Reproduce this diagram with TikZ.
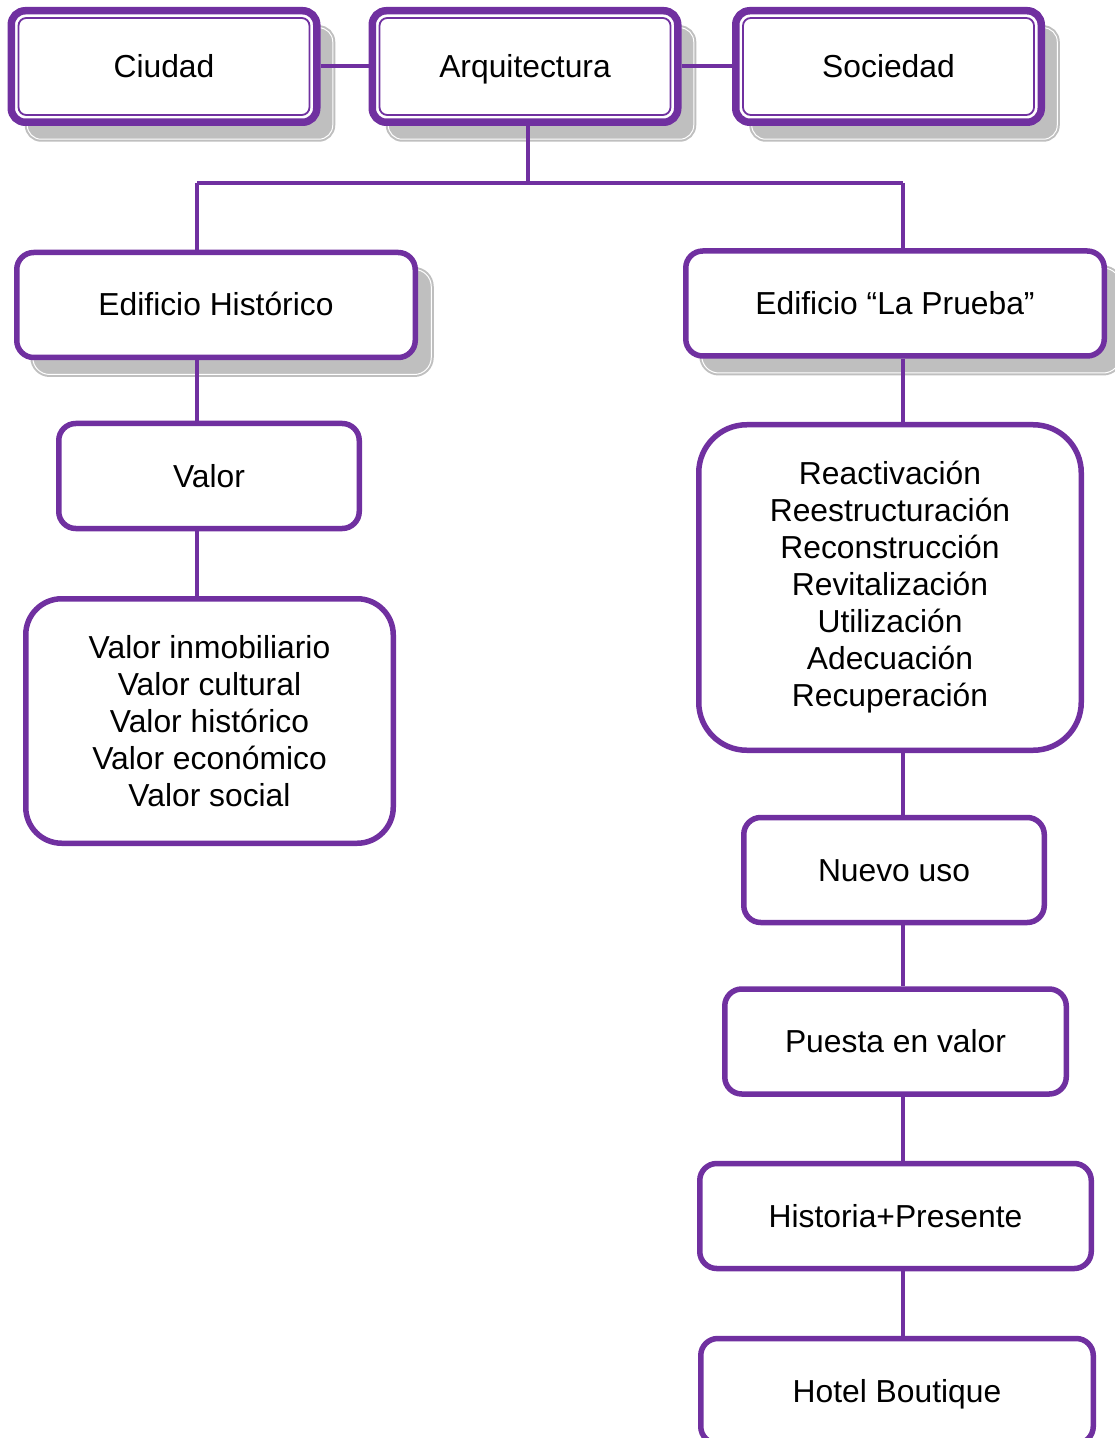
\documentclass[tikz,border=0pt]{standalone}
\usepackage{fontspec}
\setmainfont{Liberation Sans}
\usetikzlibrary{shadows,calc}
\definecolor{morado}{HTML}{7030A0}
\tikzset{
  every node/.style={font=\fontsize{15.9}{18.5}\selectfont},
  boxbase/.style={draw=morado,fill=white,line width=2.75pt,align=center,
    inner sep=2pt,rounded corners=8.5pt},
  oneline/.style={text height=14.4pt,text depth=3.4pt},
  boxshadow/.style={drop shadow={shadow xshift=8pt,shadow yshift=-8.5pt,
    opacity=1,fill=black!25,draw=black!25,double=white,
    double distance=0.5pt,line width=1pt}},
  topbox/.style={boxbase,oneline,line width=3.75pt,rounded corners=7pt,
    minimum width=152.75pt,minimum height=55.75pt,boxshadow,
    path picture={\draw[morado,line width=0.9pt,rounded corners=4pt]
      ([shift={(3.6pt,3.6pt)}]path picture bounding box.south west) rectangle
      ([shift={(-3.6pt,-3.6pt)}]path picture bounding box.north east);}},
  shbox/.style={boxbase,oneline,boxshadow,minimum height=52.5pt},
  plainbox/.style={boxbase,oneline,minimum height=52.5pt},
  listbox/.style={boxbase},
  conn/.style={draw=morado,line width=2pt},
}

\begin{document}
\begin{tikzpicture}[x=0.5pt,y=-0.5pt]
  \useasboundingbox (0,0) rectangle (1114,1438);
  % top row
  \node[topbox] (ciudad) at (164,66.5) {Ciudad};
  \node[topbox] (arq) at (525,66.5) {Arquitectura};
  \node[topbox] (soc) at (888.5,66.5) {Sociedad};
  % left branch
  \node[shbox,minimum width=199.25pt] (edhist) at (216,305) {Edificio Histórico};
  \node[plainbox,minimum width=150.25pt] (valor) at (209,476) {Valor};
  \node[listbox,rounded corners=18pt,minimum width=183.75pt,minimum height=122.25pt]
    (valores) at (209.5,721)
    {Valor inmobiliario\\Valor cultural\\Valor histórico\\Valor económico\\Valor social};
  % right branch
  \node[shbox,minimum width=209.25pt] (edprueba) at (895,303.5) {Edificio “La Prueba”};
  \node[listbox,rounded corners=24pt,minimum width=191.25pt,minimum height=162.75pt]
    (acciones) at (890,587.5)
    {Reactivación\\Reestructuración\\Reconstrucción\\Revitalización\\Utilización\\Adecuación\\Recuperación};
  \node[plainbox,minimum width=150.25pt] (nuevo) at (894,870) {Nuevo uso};
  \node[plainbox,minimum width=170.75pt] (puesta) at (895.5,1041.5) {Puesta en valor};
  \node[plainbox,minimum width=195.75pt] (histpres) at (895.5,1216) {Historia+Presente};
  \node[plainbox,minimum width=196.25pt] (hotel) at (897,1391) {Hotel Boutique};

  % connectors
  \coordinate (lspine) at (197,183);
  \coordinate (rspine) at (903,183);
  \draw[conn] (ciudad.east) -- (arq.west);
  \draw[conn] (arq.east) -- (soc.west);
  \draw[conn] ([xshift=1.5pt]arq.south) -- ([xshift=1.5pt]arq.south |- lspine);
  \draw[conn] (lspine) -- (rspine);
  \draw[conn] (lspine) -- (lspine |- edhist.north);
  \draw[conn] (rspine) -- (rspine |- edprueba.north);
  \foreach \a/\b in {edhist/valor,valor/valores}
    \draw[conn] (\a.south -| lspine) -- (\b.north -| lspine);
  \foreach \a/\b in {edprueba/acciones,acciones/nuevo,nuevo/puesta,puesta/histpres,histpres/hotel}
    \draw[conn] (\a.south -| rspine) -- (\b.north -| rspine);
\end{tikzpicture}
\end{document}
